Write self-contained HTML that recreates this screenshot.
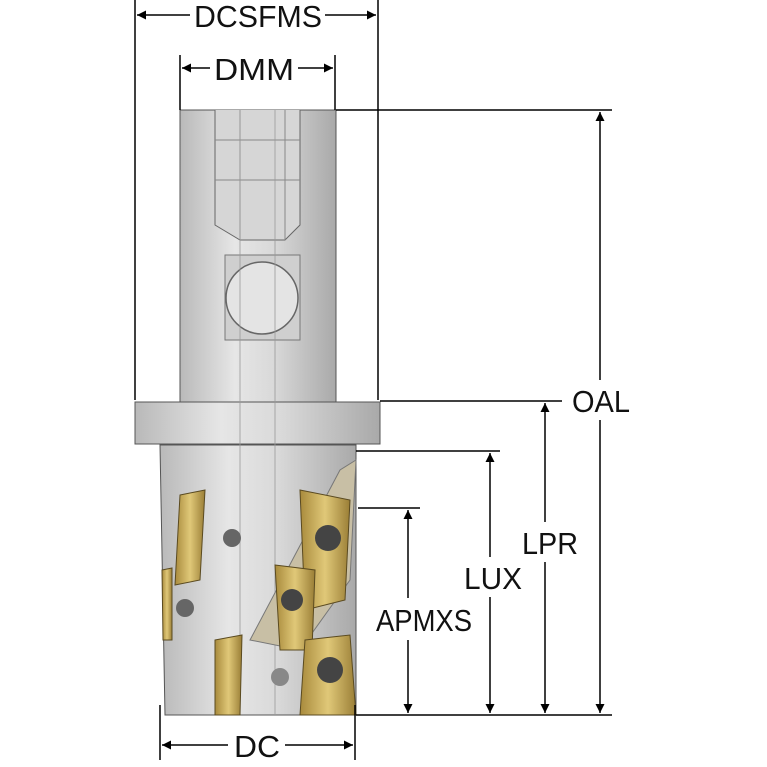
<!DOCTYPE html>
<html><head><meta charset="utf-8"><style>html,body{margin:0;padding:0;background:#fff}svg{display:block}</style></head>
<body>
<svg width="767" height="767" viewBox="0 0 767 767" xmlns="http://www.w3.org/2000/svg">
<defs>
<linearGradient id="g" x1="0" x2="1"><stop offset="0" stop-color="#b9b9b9"/><stop offset="0.35" stop-color="#e6e6e6"/><stop offset="0.6" stop-color="#d9d9d9"/><stop offset="1" stop-color="#a9a9a9"/></linearGradient>
<linearGradient id="au" x1="0" x2="1"><stop offset="0" stop-color="#a88a3c"/><stop offset="0.5" stop-color="#e0c878"/><stop offset="1" stop-color="#9a7e36"/></linearGradient>
<marker id="a" viewBox="0 0 10 10" refX="10" refY="5" markerWidth="14" markerHeight="9" orient="auto-start-reverse" markerUnits="userSpaceOnUse"><path d="M0,0L10,5L0,10z" fill="#000"/></marker>
</defs>
<rect x="180" y="110" width="156" height="292" fill="url(#g)" stroke="#555" stroke-width="1"/>
<path d="M215 110 V225 L240 240 H285 L300 225 V110" fill="#d6d6d6" stroke="#666"/>
<line x1="215" y1="140" x2="300" y2="140" stroke="#888"/><line x1="215" y1="180" x2="300" y2="180" stroke="#888"/>
<line x1="240" y1="110" x2="240" y2="240" stroke="#888"/><line x1="285" y1="110" x2="285" y2="240" stroke="#888"/>
<path d="M225 255 L300 255 L300 340 L225 340 Z" fill="#cfcfcf" stroke="#777"/>
<circle cx="262" cy="298" r="36" fill="#e4e4e4" stroke="#666" stroke-width="1.5"/>
<rect x="135" y="402" width="245" height="42" fill="url(#g)" stroke="#555"/>
<path d="M160 445 H356 L356 715 H165 Z" fill="url(#g)" stroke="#555"/>
<line x1="240" y1="110" x2="240" y2="715" stroke="#999" stroke-width="0.8"/>
<line x1="275" y1="110" x2="275" y2="715" stroke="#999" stroke-width="0.8"/>
<path d="M250 640 L340 470 L356 460 L350 580 L300 650 Z" fill="#c8bfa5" stroke="#777"/>
<path d="M300 490 L350 500 L345 600 L305 610 Z" fill="url(#au)" stroke="#5a4a20"/>
<circle cx="328" cy="538" r="13" fill="#444"/>
<path d="M275 565 L315 570 L312 650 L280 650 Z" fill="url(#au)" stroke="#5a4a20"/>
<circle cx="292" cy="600" r="11" fill="#444"/>
<path d="M180 495 L205 490 L200 580 L175 585 Z" fill="url(#au)" stroke="#5a4a20"/>
<path d="M162 570 L172 568 L172 640 L163 640 Z" fill="url(#au)" stroke="#5a4a20"/>
<path d="M215 640 L242 635 L240 715 L215 715 Z" fill="url(#au)" stroke="#5a4a20"/>
<path d="M305 640 L350 635 L356 715 L300 715 Z" fill="url(#au)" stroke="#5a4a20"/>
<circle cx="330" cy="670" r="13" fill="#444"/>
<circle cx="232" cy="538" r="9" fill="#666"/><circle cx="185" cy="608" r="9" fill="#666"/><circle cx="280" cy="677" r="9" fill="#888"/>
<g stroke="#000" stroke-width="1.5" fill="none">
<line x1="135" y1="0" x2="135" y2="400"/><line x1="378" y1="0" x2="378" y2="400"/>
<line x1="180" y1="55" x2="180" y2="110"/><line x1="335" y1="55" x2="335" y2="110"/>
<line x1="336" y1="110" x2="612" y2="110"/><line x1="380" y1="401" x2="562" y2="401"/>
<line x1="356" y1="451" x2="500" y2="451"/><line x1="358" y1="508" x2="420" y2="508"/>
<line x1="356" y1="715" x2="612" y2="715"/>
<line x1="160" y1="705" x2="160" y2="760"/><line x1="355" y1="705" x2="355" y2="760"/>
</g>
<g stroke="#000" stroke-width="1.5" marker-start="url(#a)" marker-end="url(#a)">
<line x1="137" y1="15" x2="190" y2="15" marker-end="none"/><line x1="325" y1="15" x2="376" y2="15" marker-start="none"/>
<line x1="182" y1="68" x2="210" y2="68" marker-end="none"/><line x1="298" y1="68" x2="333" y2="68" marker-start="none"/>
<line x1="162" y1="745" x2="228" y2="745" marker-end="none"/><line x1="285" y1="745" x2="353" y2="745" marker-start="none"/>
<line x1="600" y1="112" x2="600" y2="380" marker-end="none"/><line x1="600" y1="420" x2="600" y2="713" marker-start="none"/>
<line x1="545" y1="403" x2="545" y2="522" marker-end="none"/><line x1="545" y1="562" x2="545" y2="713" marker-start="none"/>
<line x1="490" y1="453" x2="490" y2="557" marker-end="none"/><line x1="490" y1="597" x2="490" y2="713" marker-start="none"/>
<line x1="408" y1="510" x2="408" y2="598" marker-end="none"/><line x1="408" y1="640" x2="408" y2="713" marker-start="none"/>
</g>
<g font-family="Liberation Sans, sans-serif" font-size="31" fill="#111" text-anchor="middle">
<text x="258" y="27" textLength="128" lengthAdjust="spacingAndGlyphs">DCSFMS</text>
<text x="254" y="80" textLength="80" lengthAdjust="spacingAndGlyphs">DMM</text>
<text x="257" y="757" textLength="46" lengthAdjust="spacingAndGlyphs">DC</text>
<text x="601" y="412" textLength="58" lengthAdjust="spacingAndGlyphs">OAL</text>
<text x="550" y="554" textLength="56" lengthAdjust="spacingAndGlyphs">LPR</text>
<text x="493" y="589" textLength="58" lengthAdjust="spacingAndGlyphs">LUX</text>
<text x="424" y="631" textLength="96" lengthAdjust="spacingAndGlyphs">APMXS</text>
</g>
</svg>
</body></html>
